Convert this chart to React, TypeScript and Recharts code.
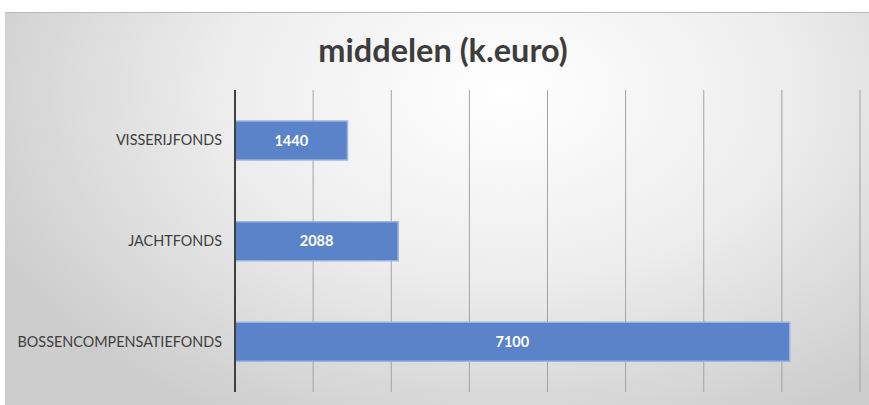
import React from "react";
import { BarChart, Bar, XAxis, YAxis, CartesianGrid, LabelList } from "recharts";

const categories = ["VISSERIJFONDS", "JACHTFONDS", "BOSSENCOMPENSATIEFONDS"];
const values = [1440, 2088, 7100];
const xTicks = [0, 1000, 2000, 3000, 4000, 5000, 6000, 7000, 8000];
const title = "middelen (k.euro)";

const data = categories.map((name, i) => ({ name, value: values[i] }));

export default function App() {
  return (
    <div style={{ position: "absolute", left: 0, top: 0, width: 869, height: 405, background: "#ffffff", overflow: "hidden" }}>
      <div
        style={{
          position: "absolute",
          left: 5,
          top: 12,
          width: 864,
          height: 393,
          borderTop: "1px solid #b8b8b8",
          background: "radial-gradient(ellipse 65% 95% at 58% 20%, #ffffff 0%, #ededed 50%, #cdcdcd 100%)",
        }}
      />
      <div
        style={{
          position: "absolute",
          left: 0,
          top: 30,
          width: 886,
          textAlign: "center",
          fontFamily: "Lato, 'Open Sans', sans-serif",
          fontWeight: 700,
          fontSize: 32.5,
          color: "#3d3d3d",
          lineHeight: "40px",
        }}
      >
        {title}
      </div>
      <div style={{ position: "absolute", left: 0, top: 0 }}>
        <BarChart
          width={869}
          height={405}
          data={data}
          layout="vertical"
          margin={{ top: 90, right: 9, bottom: 13, left: 0 }}
          barSize={39}
        >
          <CartesianGrid horizontal={false} vertical={true} stroke="#a3a3a3" strokeWidth={1} />
          <XAxis type="number" domain={[0, 8000]} ticks={xTicks} hide />
          <YAxis
            type="category"
            dataKey="name"
            width={235}
            tickLine={false}
            tickMargin={7}
            axisLine={{ stroke: "#404040", strokeWidth: 2 }}
            tick={{ fill: "#404040", fontSize: 14.4, fontFamily: "Lato, 'Open Sans', sans-serif" }}
          />
          <Bar dataKey="value" fill="#5a83c9" stroke="#9ab4e2" strokeWidth={1.5} isAnimationActive={false}>
            <LabelList
              dataKey="value"
              position="center"
              fill="#ffffff"
              fontSize={14.5}
              fontWeight={700}
              fontFamily="Lato, 'Open Sans', sans-serif"
            />
          </Bar>
        </BarChart>
      </div>
    </div>
  );
}
